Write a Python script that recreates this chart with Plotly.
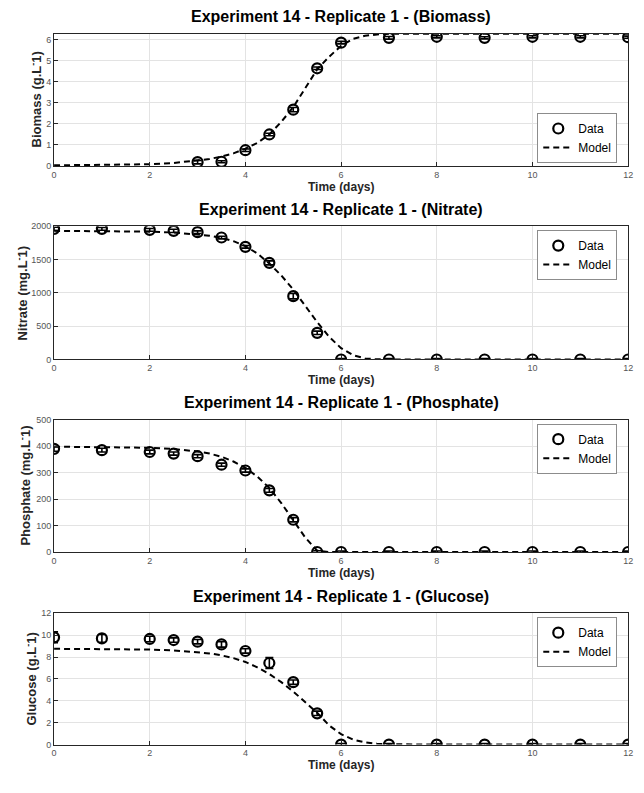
import plotly.graph_objects as go

# ---- measured data (days) ----
t_biomass = [3, 3.5, 4, 4.5, 5, 5.5, 6, 7, 8, 9, 10, 11, 12]
biomass = [0.18, 0.2, 0.75, 1.5, 2.68, 4.65, 5.87, 6.1, 6.15, 6.1, 6.15, 6.15, 6.13]
biomass_err = [0.08, 0.05, 0.06, 0.06, 0.1, 0.06, 0.06, 0.06, 0.05, 0.05, 0.05, 0.05, 0.05]

t_meas = [0, 1, 2, 2.5, 3, 3.5, 4, 4.5, 5, 5.5, 6, 7, 8, 9, 10, 11, 12]
nitrate = [1960, 1960, 1945, 1930, 1910, 1830, 1690, 1450, 950, 400, 0, 0, 0, 0, 0, 0, 0]
nitrate_err = [25, 20, 20, 25, 20, 20, 20, 30, 40, 25, 15, 15, 15, 15, 15, 15, 15]

t_phos = [0, 1, 2, 2.5, 3, 3.5, 4, 4.5, 5, 5.5, 6, 7, 8, 9, 10, 11, 12]
phosphate = [390, 385, 378, 372, 362, 330, 308, 233, 122, 0, 0, 0, 0, 0, 0, 0, 0]
phosphate_err = [9, 7, 7, 6, 6, 6, 6, 7, 8, 5, 4, 4, 4, 4, 4, 4, 4]

glucose = [9.8, 9.7, 9.65, 9.55, 9.4, 9.15, 8.55, 7.45, 5.7, 2.85, 0, 0, 0, 0, 0, 0, 0]
glucose_err = [0.5, 0.35, 0.25, 0.2, 0.2, 0.25, 0.2, 0.5, 0.2, 0.2, 0.1, 0.1, 0.1, 0.1, 0.1, 0.1, 0.1]

# ---- model simulation output ----
t_model = [0, 1, 2, 2.5, 3, 3.25, 3.5, 3.75, 4, 4.25, 4.5, 4.75, 5, 5.25, 5.5,
           5.75, 6, 6.25, 6.5, 6.75, 7, 8, 9, 10, 11, 12]
biomass_model = [0.03, 0.04, 0.08, 0.14, 0.25, 0.33, 0.45, 0.6, 0.82, 1.1, 1.5, 2.1,
                 2.8, 3.7, 4.6, 5.2, 5.72, 6.05, 6.2, 6.26, 6.29, 6.3, 6.3, 6.3, 6.3, 6.3]
nitrate_model = [1930, 1928, 1918, 1905, 1880, 1858, 1825, 1775, 1700, 1590, 1440, 1260,
                 1050, 800, 560, 340, 170, 65, 15, 3, 0, 0, 0, 0, 0, 0]
phosphate_model = [398, 397, 394, 389, 380, 372, 360, 342, 318, 285, 242, 185,
                   120, 55, 5, 0, 0, 0, 0, 0, 0, 0, 0, 0, 0, 0]
glucose_model = [8.75, 8.74, 8.68, 8.6, 8.45, 8.33, 8.15, 7.9, 7.55, 7.05, 6.45, 5.7,
                 4.85, 3.9, 2.9, 1.75, 0.95, 0.45, 0.2, 0.08, 0.03, 0, 0, 0, 0, 0]

titles = ["Experiment 14 - Replicate 1 - (Biomass)",
          "Experiment 14 - Replicate 1 - (Nitrate)",
          "Experiment 14 - Replicate 1 - (Phosphate)",
          "Experiment 14 - Replicate 1 - (Glucose)"]
ylabels = ["Biomass (g.L<sup>-</sup>1)", "Nitrate (mg.L<sup>-</sup>1)",
           "Phosphate (mg.L<sup>-</sup>1)", "Glucose (g.L<sup>-</sup>1)"]
y_ranges = [[0, 6.3], [0, 2000], [0, 500], [0, 12]]
y_dticks = [1, 500, 100, 2]
x_ticks = [0, 2, 4, 6, 8, 10, 12]

panels = [
    (t_biomass, biomass, biomass_err, biomass_model),
    (t_meas, nitrate, nitrate_err, nitrate_model),
    (t_phos, phosphate, phosphate_err, phosphate_model),
    (t_meas, glucose, glucose_err, glucose_model),
]

W, H = 644, 793
FONT = "Liberation Sans, Arial, sans-serif"
# pixel layout of each axes box: (top, bottom)
boxes = [(29, 163), (224, 359), (420, 554), (616, 749)]
x_left, x_right = 51.7, 633
ylabel_x = [33, 19, 22, 28]
legend_pos = [("bottom", 160), ("top", 228), ("top", 424), ("top", 620)]


def px_x(x):
    return x / W


def px_y(y):
    return 1 - y / H


fig = go.Figure()
annotations = []

for i, (tx, ty, terr, ym) in enumerate(panels):
    n = "" if i == 0 else str(i + 1)
    leg = "legend" + n
    fig.add_trace(go.Scatter(
        x=tx, y=ty, mode="markers", name="Data",
        marker=dict(symbol="circle-open", size=10, color="black", line=dict(width=2.2)),
        error_y=dict(type="data", array=terr, color="black", thickness=1.6, width=4),
        xaxis="x" + n, yaxis="y" + n, legend=leg,
    ))
    fig.add_trace(go.Scatter(
        x=t_model, y=ym, mode="lines", name="Model",
        line=dict(color="black", width=2, dash="6px,4px"),
        xaxis="x" + n, yaxis="y" + n, legend=leg,
    ))

    top, bot = boxes[i]
    axis_common = dict(
        showline=True, linecolor="#262626", linewidth=1, mirror=True,
        showgrid=True, gridcolor="#e3e3e3", gridwidth=1,
        ticks="inside", ticklen=4, tickcolor="#262626",
        tickfont=dict(family=FONT, size=9, color="#555555"),
        zeroline=False,
    )
    fig.update_layout(**{
        "xaxis" + n: dict(
            domain=[px_x(x_left), px_x(x_right)], anchor="y" + n,
            range=[0, 12], tickvals=x_ticks, **axis_common),
        "yaxis" + n: dict(
            domain=[px_y(bot), px_y(top)], anchor="x" + n,
            range=y_ranges[i], dtick=y_dticks[i], tick0=0, **axis_common),
    })

    anchor, ly = legend_pos[i]
    fig.update_layout(**{
        leg: dict(
            x=px_x(622), xanchor="right", y=px_y(ly), yanchor=anchor,
            xref="paper", yref="paper",
            bgcolor="white", bordercolor="#8c8c8c", borderwidth=1,
            font=dict(family=FONT, size=12, color="black"),
            itemwidth=30, tracegroupgap=0,
        )
    })

    annotations.append(dict(
        text="<b>" + titles[i] + "</b>", x=px_x((x_left + x_right) / 2), y=px_y(top - 17),
        xref="paper", yref="paper", showarrow=False, xanchor="center", yanchor="middle",
        font=dict(family=FONT, size=16, color="black")))
    annotations.append(dict(
        text="<b>Time (days)</b>", x=px_x((x_left + x_right) / 2), y=px_y(bot + 21),
        xref="paper", yref="paper", showarrow=False, xanchor="center", yanchor="middle",
        font=dict(family=FONT, size=12, color="#262626")))
    annotations.append(dict(
        text="<b>" + ylabels[i] + "</b>", x=px_x(ylabel_x[i]), y=px_y((top + bot) / 2),
        xref="paper", yref="paper", showarrow=False, xanchor="center", yanchor="middle",
        textangle=-90, font=dict(family=FONT, size=13, color="#262626")))

fig.update_layout(
    width=W, height=H,
    margin=dict(l=0, r=0, t=0, b=0),
    paper_bgcolor="white", plot_bgcolor="white",
    annotations=annotations,
)

fig.write_html("out.html")
